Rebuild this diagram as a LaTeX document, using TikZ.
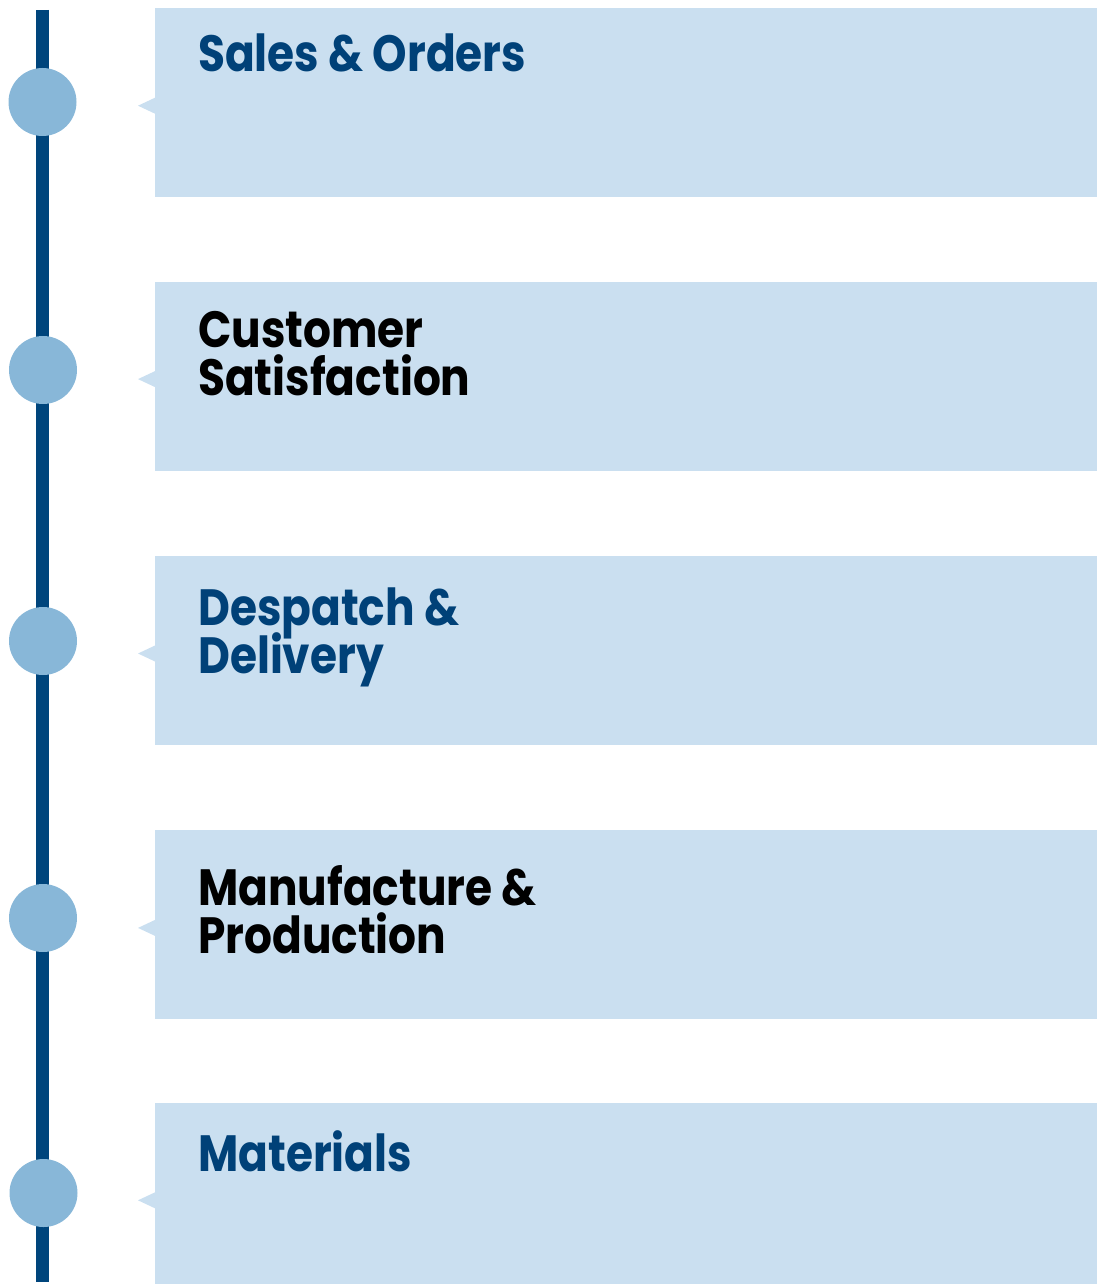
\documentclass[tikz,border=0pt]{standalone}
\usepackage{fontspec}
\setmainfont{Poppins}
\newfontfamily\headfont{Poppins}[FakeStretch=0.86]
\newcommand\headstyle{\headfont\fontsize{51}{48}\selectfont\bfseries\lineskiplimit=-50pt\relax}
\usetikzlibrary{positioning}
\definecolor{tlnavy}{RGB}{0,69,124}
\definecolor{tldot}{RGB}{136,183,216}
\definecolor{tlpanel}{RGB}{202,223,240}
\definecolor{tltitle}{RGB}{0,65,120}
\tikzset{
  panel/.style={fill=tlpanel, draw=none, anchor=north west, inner sep=0pt,
    minimum width=942pt, minimum height=189pt},
  dot/.style={circle, fill=tldot, draw=none, minimum size=68pt, inner sep=0pt},
  tip/.style={fill=tlpanel, draw=none},
  title/.style={anchor=base west, inner sep=0pt, align=left, font=\headstyle},
  spine/.style={draw=tlnavy, line width=13pt}
}
\begin{document}
\begin{tikzpicture}[x=1pt, y=-1pt, node distance=84pt]
  \clip (0,0) rectangle (1097,1284);
  % panels, stacked down the page
  \node[panel] (sales) at (155,8) {};
  \node[panel, below=of sales.south west, anchor=north west] (customer) {};
  \node[panel, below=85pt of customer.south west, anchor=north west] (despatch) {};
  \node[panel, below=85pt of despatch.south west, anchor=north west] (manufacture) {};
  \node[panel, below=83pt of manufacture.south west, anchor=north west] (materials) {};
  % little pointers on the left edge
  \foreach \p in {sales,customer,despatch,manufacture,materials}
    \fill[tip] ([yshift=-3pt]\p.west) ++(0,-8) -- ++(-17,8) -- ++(17,8) -- cycle;
  % the vertical line and its dots
  \coordinate (top) at (42.5,10);
  \coordinate (bottom) at (42.5,1282);
  \draw[spine] (top) -- (bottom);
  \node[dot] (d1) at (42.5,102) {};
  \node[dot] (d2) at (43,370) {};
  \node[dot] (d3) at (43,641) {};
  \node[dot] (d4) at (43,918) {};
  \node[dot] (d5) at (43.5,1193) {};
  % headings (two-line ones sit on their last baseline)
  \node[title, text=tltitle] (t1) at (198,72) {Sales \& Orders};
  \node[title, text=black] (t2) at (198,395) {Customer\\Satisfaction};
  \node[title, text=tltitle] (t3) at (198,673) {Despatch \&\\Delivery};
  \node[title, text=black] (t4) at (198,953) {Manufacture \&\\Production};
  \node[title, text=tltitle] (t5) at (198,1171) {Materials};
\end{tikzpicture}
\end{document}
